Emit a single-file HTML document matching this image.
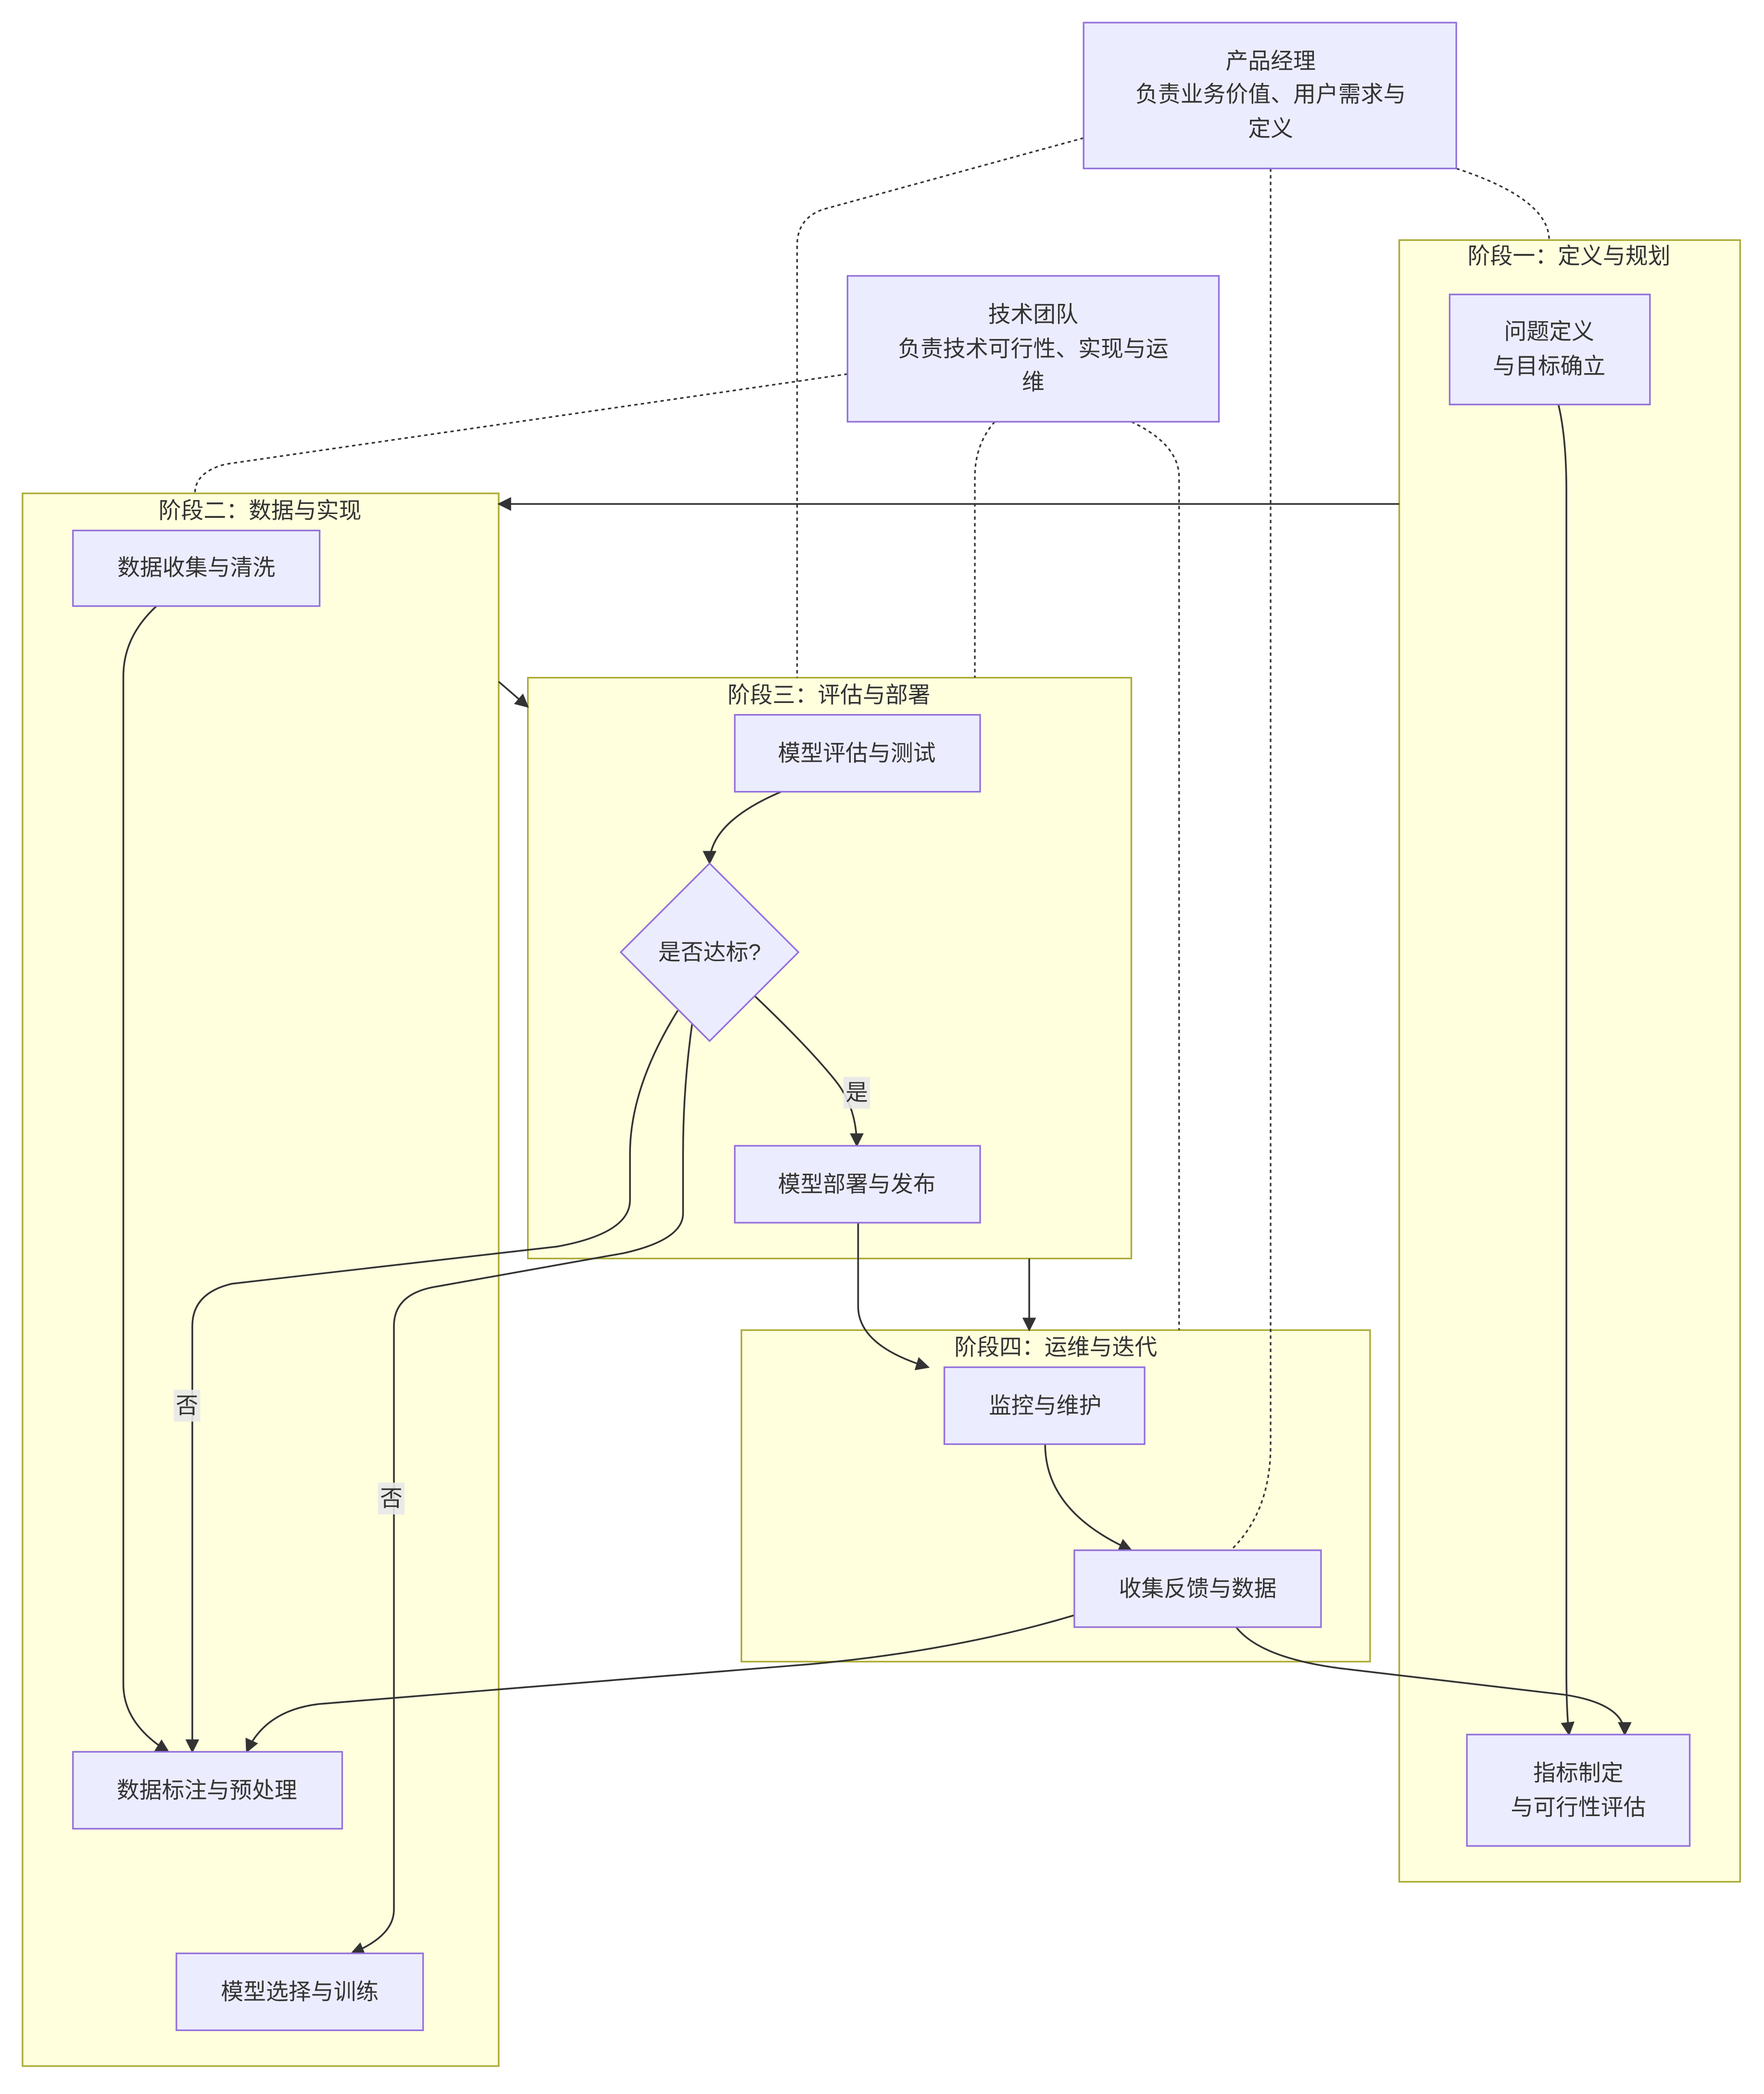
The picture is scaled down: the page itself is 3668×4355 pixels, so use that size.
<!DOCTYPE html>
<html><head><meta charset="utf-8"><style>
html,body{margin:0;padding:0;background:#fff;}
svg{display:block;}
text{font-family:"Liberation Sans","Noto Sans CJK SC",sans-serif;font-size:17px;fill:#333;text-anchor:middle;dominant-baseline:central;}
.n{fill:#ECECFF;stroke:#9370DB;stroke-width:1.2;}
.c{fill:#FFFFDE;stroke:#AAAA33;stroke-width:1.2;}
.e{fill:none;stroke:#333;stroke-width:1.3;}
.d{fill:none;stroke:#333;stroke-width:1.2;stroke-dasharray:2.5 2.5;}
.lb{fill:#e8e8e8;opacity:0.9;}
</style></head><body>
<svg width="3668" height="4355" viewBox="0 0 1330 1579" xmlns="http://www.w3.org/2000/svg">
<defs><marker id="a" viewBox="0 0 10 10" refX="9" refY="5" markerWidth="8" markerHeight="8" orient="auto-start-reverse"><path d="M0,0L10,5L0,10z" fill="#333"/></marker></defs>
<rect width="1330" height="1579" fill="#fff"/>
<!-- clusters -->
<rect class="c" x="1055" y="181" width="257" height="1238"/>
<text x="1183" y="193">阶段一：定义与规划</text>
<rect class="c" x="17" y="372" width="359" height="1186"/>
<text x="196" y="385">阶段二：数据与实现</text>
<rect class="c" x="398" y="511" width="455" height="438"/>
<text x="625" y="524">阶段三：评估与部署</text>
<rect class="c" x="559" y="1003" width="474" height="250"/>
<text x="796" y="1016">阶段四：运维与迭代</text>
<!-- dotted -->
<path class="d" d="M817,104 L620,158 Q601,165 601,185 L601,511"/>
<path class="d" d="M958,127 L958,1090 Q958,1140 928,1169"/>
<path class="d" d="M1098,127 Q1168,150 1168,181"/>
<path class="d" d="M639,282 L170,350 Q147,356 147,372"/>
<path class="d" d="M750,318 Q735,335 735,360 L735,511"/>
<path class="d" d="M853,318 Q889,335 889,360 L889,1003"/>
<!-- edges -->
<path class="e" marker-end="url(#a)" d="M1055,380 L376,380"/>
<path class="e" marker-end="url(#a)" d="M376,514 L398,533"/>
<path class="e" marker-end="url(#a)" d="M776,949 L776,1003"/>
<path class="e" marker-end="url(#a)" d="M1175,305 Q1181,330 1181,370 L1181,1260 Q1181,1290 1183,1308"/>
<path class="e" marker-end="url(#a)" d="M118,457 Q93,480 93,510 L93,1270 Q93,1300 127,1321"/>
<path class="e" marker-end="url(#a)" d="M589,597 Q535,620 535,651"/>
<path class="e" marker-end="url(#a)" d="M569,751 Q610,790 630,815 Q646,835 646,864"/>
<path class="e" marker-end="url(#a)" d="M511,762 Q475,820 475,870 L475,905 Q475,930 420,940 L175,968 Q145,975 145,1000 L145,1321"/>
<path class="e" marker-end="url(#a)" d="M522,771 Q515,820 515,870 L515,915 Q515,935 470,945 L330,970 Q297,975 297,1000 L297,1440 Q297,1460 265,1473"/>
<path class="e" marker-end="url(#a)" d="M647,922 L647,985 Q647,1015 700,1031"/>
<path class="e" marker-end="url(#a)" d="M788,1089 Q788,1140 853,1169"/>
<path class="e" marker-end="url(#a)" d="M810,1218 Q720,1245 610,1255 L240,1285 Q200,1290 186,1321"/>
<path class="e" marker-end="url(#a)" d="M932,1227 Q950,1250 1010,1258 L1180,1278 Q1225,1285 1225,1308"/>
<!-- edge labels -->
<rect class="lb" x="636" y="812" width="20" height="24"/><text x="646" y="824">是</text>
<rect class="lb" x="131" y="1048" width="20" height="24"/><text x="141" y="1060">否</text>
<rect class="lb" x="285" y="1118" width="20" height="24"/><text x="295" y="1130">否</text>
<!-- nodes -->
<rect class="n" x="817" y="17" width="281" height="110"/>
<text x="958" y="46">产品经理</text><text x="958" y="71">负责业务价值、用户需求与</text><text x="958" y="97">定义</text>
<rect class="n" x="639" y="208" width="280" height="110"/>
<text x="779" y="237">技术团队</text><text x="779" y="263">负责技术可行性、实现与运</text><text x="779" y="288">维</text>
<rect class="n" x="1093" y="222" width="151" height="83"/>
<text x="1168" y="250">问题定义</text><text x="1168" y="276">与目标确立</text>
<rect class="n" x="1106" y="1308" width="168" height="84"/>
<text x="1190" y="1337">指标制定</text><text x="1190" y="1363">与可行性评估</text>
<rect class="n" x="55" y="400" width="186" height="57"/><text x="148" y="428">数据收集与清洗</text>
<rect class="n" x="55" y="1321" width="203" height="58"/><text x="156" y="1350">数据标注与预处理</text>
<rect class="n" x="133" y="1473" width="186" height="58"/><text x="226" y="1502">模型选择与训练</text>
<rect class="n" x="554" y="539" width="185" height="58"/><text x="646" y="568">模型评估与测试</text>
<polygon class="n" points="535,651 602,718 535,785 468,718"/>
<text x="535" y="718">是否达标?</text>
<rect class="n" x="554" y="864" width="185" height="58"/><text x="646" y="893">模型部署与发布</text>
<rect class="n" x="712" y="1031" width="151" height="58"/><text x="788" y="1060">监控与维护</text>
<rect class="n" x="810" y="1169" width="186" height="58"/><text x="903" y="1198">收集反馈与数据</text>
</svg>
</body></html>
